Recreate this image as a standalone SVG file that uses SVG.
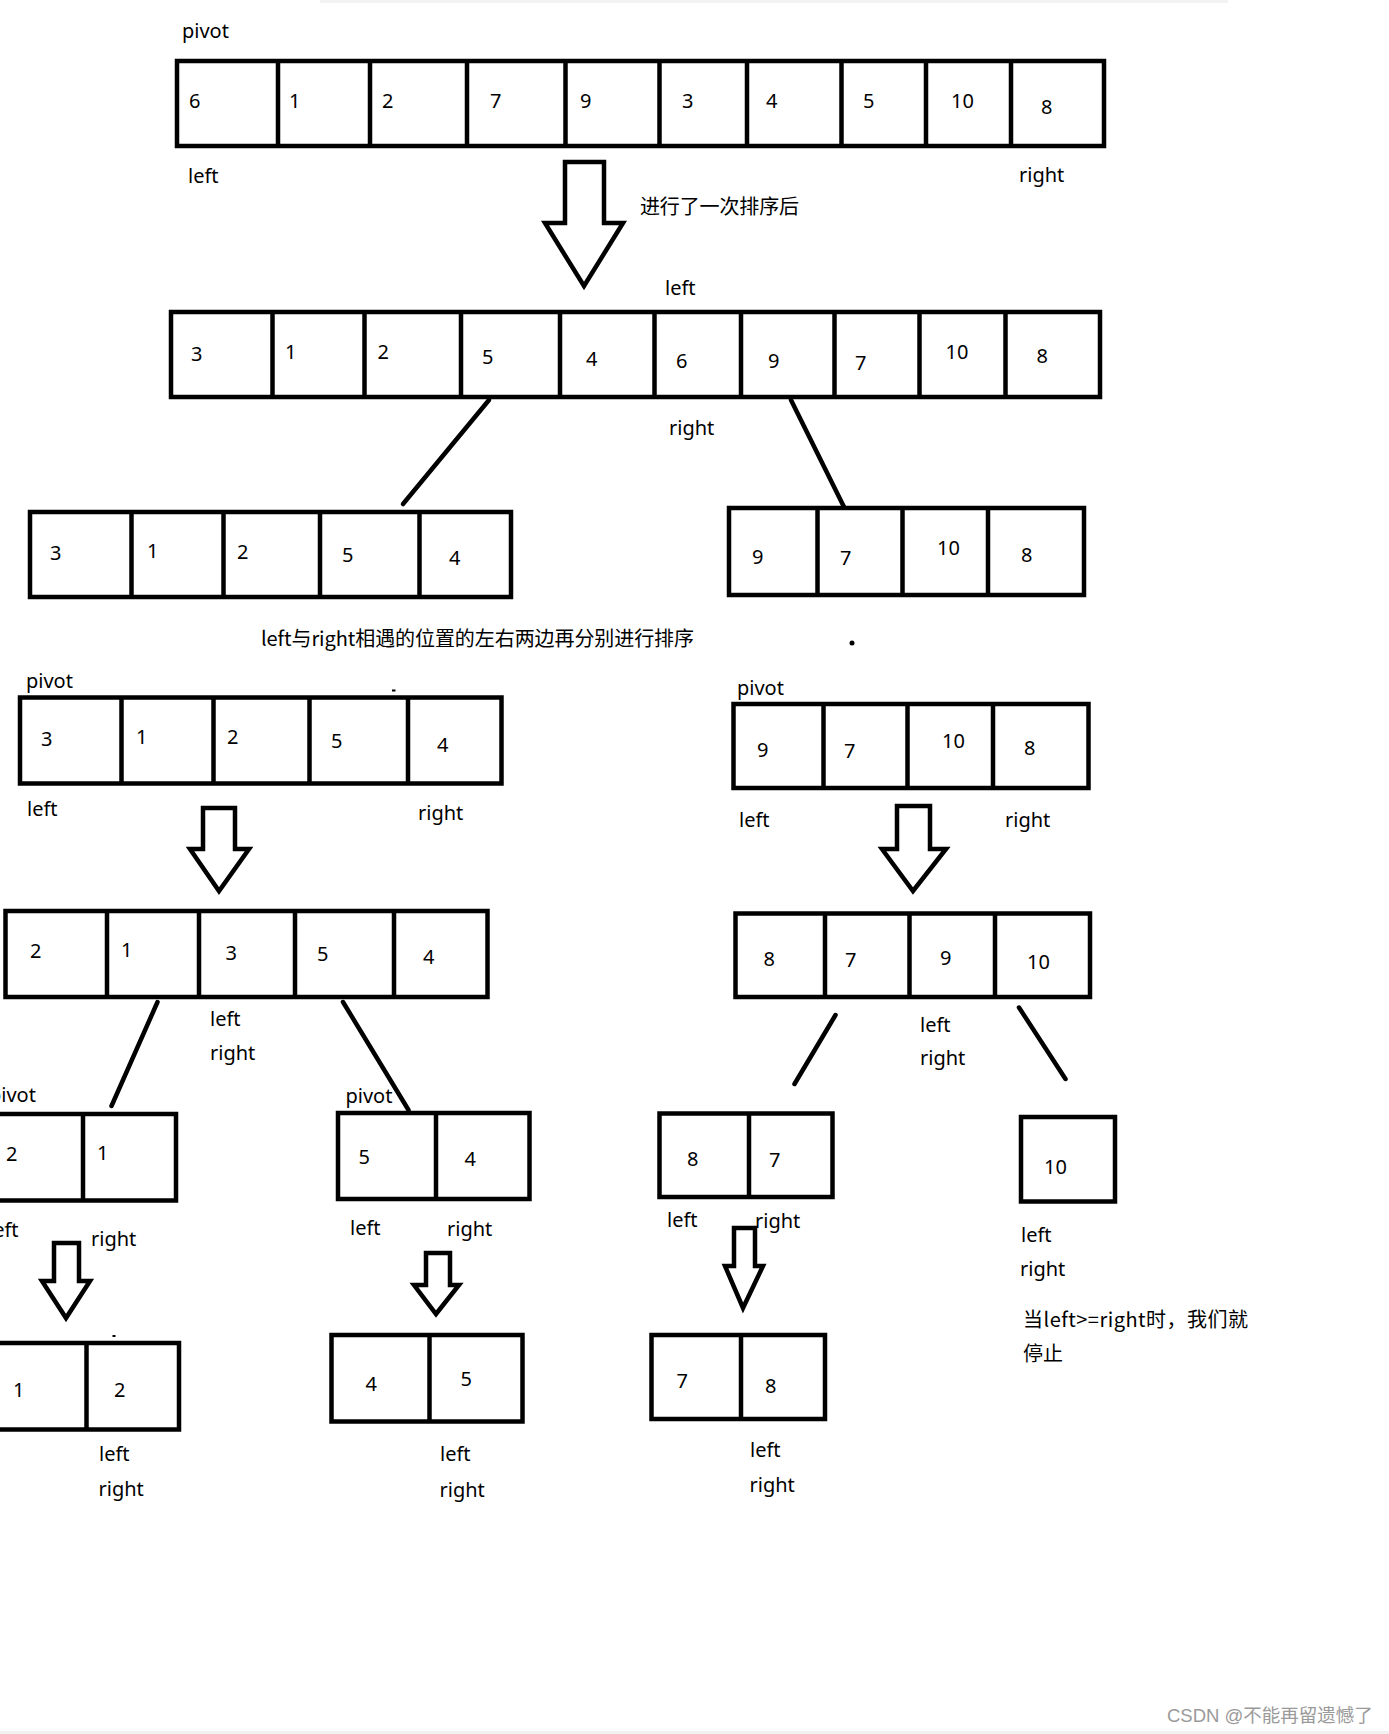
<svg xmlns="http://www.w3.org/2000/svg" width="1389" height="1734" viewBox="0 0 1389 1734">
<style>
.box{fill:#fff;stroke:#000;stroke-width:4.5}
.div{stroke:#000;stroke-width:4.5}
.t{font-family:"Noto Sans","Noto Sans CJK SC",sans-serif;font-size:20px;fill:#000}
.c{font-family:"Noto Sans CJK SC","Noto Sans",sans-serif;font-size:20px;fill:#000}
.arr{fill:#fff;stroke:#000;stroke-width:4.5;stroke-linejoin:miter}
.ln{stroke:#000;stroke-width:4.5;stroke-linecap:round;fill:none}
.wm{font-family:"Liberation Sans","Noto Sans CJK SC",sans-serif;font-size:18.5px;fill:#9a9a9a}
</style>
<rect x="0" y="0" width="1389" height="1734" fill="#fff"/>
<rect x="320" y="0" width="908" height="3" fill="#f3f3f3"/>
<rect x="0" y="1731" width="1389" height="3" fill="#f1f1f1"/>

<g id="connectors">
<line class="ln" x1="489" y1="400" x2="403" y2="504"/>
<line class="ln" x1="791" y1="400" x2="844" y2="507"/>
<line class="ln" x1="157.5" y1="1002" x2="111.5" y2="1106"/>
<line class="ln" x1="343" y1="1002" x2="408.5" y2="1110"/>
<line class="ln" x1="835.5" y1="1015" x2="794.5" y2="1084"/>
<line class="ln" x1="1019" y1="1007.5" x2="1065.5" y2="1079"/>
<polygon class="arr" points="565,162 604,162 604,223 623,223 584,286 545,223 565,223"/>
<polygon class="arr" points="203,808 235,808 235,849 249,849 219,891 190,849 203,849"/>
<polygon class="arr" points="54,1243 79,1243 79,1281 90,1281 66,1318 42,1281 54,1281"/>
<polygon class="arr" points="426,1253 450,1253 450,1285 459,1285 436,1314 414,1285 426,1285"/>
<polygon class="arr" points="897,806 930,806 930,849 946,849 913,891 882,849 897,849"/>
<polygon class="arr" points="734,1228 755,1228 755,1266 763,1266 743,1308 725,1266 734,1266"/>
</g>

<g id="labels">
<text class="t" x="182" y="38">pivot</text>
<text class="t" x="188" y="183">left</text>
<text class="t" x="1019" y="182">right</text>
<text class="c" x="640" y="214" textLength="159">进行了一次排序后</text>
<text class="t" x="665" y="295">left</text>
<text class="t" x="669" y="435">right</text>
<text class="c" x="261" y="646" textLength="433">left与right相遇的位置的左右两边再分别进行排序</text>
<circle cx="852" cy="643" r="2.5" fill="#000"/>
<rect x="392" y="689.5" width="3.5" height="2" fill="#000"/>
<rect x="112.5" y="1335" width="3" height="2" fill="#000"/>
<text class="t" x="26" y="688">pivot</text>
<text class="t" x="27" y="816">left</text>
<text class="t" x="418" y="820">right</text>
<text class="t" x="737" y="695">pivot</text>
<text class="t" x="739" y="827">left</text>
<text class="t" x="1005" y="827">right</text>
<text class="t" x="210" y="1026">left</text>
<text class="t" x="210" y="1060">right</text>
<text class="t" x="920" y="1032">left</text>
<text class="t" x="920" y="1065">right</text>
<text class="t" x="-11" y="1102">pivot</text>
<text class="t" x="-12" y="1237">left</text>
<text class="t" x="91" y="1246">right</text>
<text class="t" x="345.5" y="1103">pivot</text>
<text class="t" x="350" y="1235">left</text>
<text class="t" x="447" y="1236">right</text>
<text class="t" x="667" y="1227">left</text>
<text class="t" x="755" y="1228">right</text>
<text class="t" x="1021" y="1242">left</text>
<text class="t" x="1020" y="1276">right</text>
<text class="c" x="1023" y="1327" textLength="225">当left&gt;=right时，我们就</text>
<text class="c" x="1023" y="1361">停止</text>
<text class="t" x="99" y="1461">left</text>
<text class="t" x="98.5" y="1496">right</text>
<text class="t" x="440" y="1461">left</text>
<text class="t" x="439.5" y="1497">right</text>
<text class="t" x="750" y="1457">left</text>
<text class="t" x="749.5" y="1492">right</text>
<text class="wm" x="1167" y="1722">CSDN @不能再留遗憾了</text>
</g>

<g id="array-initial">
<rect class="box" x="177" y="61" width="927" height="85"/>
<path class="div" d="M278 61V146M370 61V146M467 61V146M565.5 61V146M659.5 61V146M747 61V146M841.5 61V146M926 61V146M1011 61V146"/>
<text class="t" x="189" y="107.5">6</text><text class="t" x="289" y="107.5">1</text><text class="t" x="382" y="107.5">2</text><text class="t" x="490" y="107.5">7</text><text class="t" x="580" y="107.5">9</text><text class="t" x="682" y="107.5">3</text><text class="t" x="766" y="107.5">4</text><text class="t" x="863" y="107.5">5</text><text class="t" x="951" y="107.5">10</text><text class="t" x="1041" y="114">8</text>
</g>

<g id="array-after-first">
<rect class="box" x="171" y="312" width="929" height="85"/>
<path class="div" d="M272.5 312V397M364.5 312V397M461 312V397M560 312V397M654.5 312V397M741 312V397M834.5 312V397M919.5 312V397M1005.5 312V397"/>
<text class="t" x="191" y="360.5">3</text><text class="t" x="285" y="358.5">1</text><text class="t" x="377.5" y="358.5">2</text><text class="t" x="482" y="363.5">5</text><text class="t" x="586" y="365.5">4</text><text class="t" x="676" y="367.5">6</text><text class="t" x="768" y="367.5">9</text><text class="t" x="855" y="369.5">7</text><text class="t" x="945.5" y="358.5">10</text><text class="t" x="1036.5" y="362.5">8</text>
</g>

<g id="array-left-part">
<rect class="box" x="30" y="512" width="481" height="85"/>
<path class="div" d="M131.5 512V597M223.5 512V597M320 512V597M419.5 512V597"/>
<text class="t" x="50" y="559.5">3</text><text class="t" x="147" y="557.5">1</text><text class="t" x="237" y="559">2</text><text class="t" x="342" y="562">5</text><text class="t" x="449" y="564.5">4</text>
</g>

<g id="array-right-part">
<rect class="box" x="729" y="508" width="355" height="87"/>
<path class="div" d="M817.5 508V595M902.5 508V595M988 508V595"/>
<text class="t" x="752" y="564">9</text><text class="t" x="840" y="564.5">7</text><text class="t" x="937" y="554.5">10</text><text class="t" x="1021" y="561.5">8</text>
</g>

<g id="array-left-pivot">
<rect class="box" x="20" y="697.5" width="481.5" height="86"/>
<path class="div" d="M121.5 697.5V783.5M213.5 697.5V783.5M309.5 697.5V783.5M408 697.5V783.5"/>
<text class="t" x="41" y="745.5">3</text><text class="t" x="136" y="744">1</text><text class="t" x="227" y="744">2</text><text class="t" x="331" y="747.5">5</text><text class="t" x="437" y="751.5">4</text>
</g>

<g id="array-right-pivot">
<rect class="box" x="733.5" y="704" width="355" height="84"/>
<path class="div" d="M823.5 704V788M907.5 704V788M993 704V788"/>
<text class="t" x="757" y="756.5">9</text><text class="t" x="844" y="757.5">7</text><text class="t" x="942" y="748">10</text><text class="t" x="1024" y="754.5">8</text>
</g>

<g id="array-left-sorted">
<rect class="box" x="5.5" y="911" width="482" height="86"/>
<path class="div" d="M107 911V997M199 911V997M295 911V997M394 911V997"/>
<text class="t" x="30" y="957.5">2</text><text class="t" x="121" y="956.5">1</text><text class="t" x="225.5" y="960">3</text><text class="t" x="317" y="960.5">5</text><text class="t" x="423" y="964">4</text>
</g>

<g id="array-right-sorted">
<rect class="box" x="735.5" y="913.5" width="354.5" height="83.5"/>
<path class="div" d="M825 913.5V997M909.5 913.5V997M995 913.5V997"/>
<text class="t" x="763.5" y="965.5">8</text><text class="t" x="845" y="966.5">7</text><text class="t" x="940" y="964.5">9</text><text class="t" x="1027" y="969">10</text>
</g>

<g id="array-2-1">
<rect class="box" x="-10" y="1114" width="186" height="86.5"/>
<path class="div" d="M83 1114V1200.5"/>
<text class="t" x="6" y="1160.5">2</text><text class="t" x="97" y="1160">1</text>
</g>

<g id="array-5-4">
<rect class="box" x="338" y="1113" width="191.5" height="86"/>
<path class="div" d="M436 1113V1199"/>
<text class="t" x="358.5" y="1163.5">5</text><text class="t" x="464.5" y="1165.5">4</text>
</g>

<g id="array-8-7">
<rect class="box" x="659.5" y="1113.5" width="173" height="83.5"/>
<path class="div" d="M749 1113.5V1197"/>
<text class="t" x="687" y="1166">8</text><text class="t" x="769" y="1166.5">7</text>
</g>

<g id="array-10">
<rect class="box" x="1021" y="1117" width="94" height="84.5"/>
<text class="t" x="1044" y="1173.5">10</text>
</g>

<g id="array-1-2">
<rect class="box" x="-10" y="1343" width="189" height="86.5"/>
<path class="div" d="M86.5 1343V1429.5"/>
<text class="t" x="13" y="1396.5">1</text><text class="t" x="114" y="1396.5">2</text>
</g>

<g id="array-4-5">
<rect class="box" x="331.5" y="1335" width="191" height="86.5"/>
<path class="div" d="M429.5 1335V1421.5"/>
<text class="t" x="365.5" y="1390.5">4</text><text class="t" x="460.5" y="1385.5">5</text>
</g>

<g id="array-7-8">
<rect class="box" x="651.5" y="1335" width="173.5" height="84"/>
<path class="div" d="M741 1335V1419"/>
<text class="t" x="676.5" y="1387.5">7</text><text class="t" x="765" y="1392.5">8</text>
</g>
</svg>
